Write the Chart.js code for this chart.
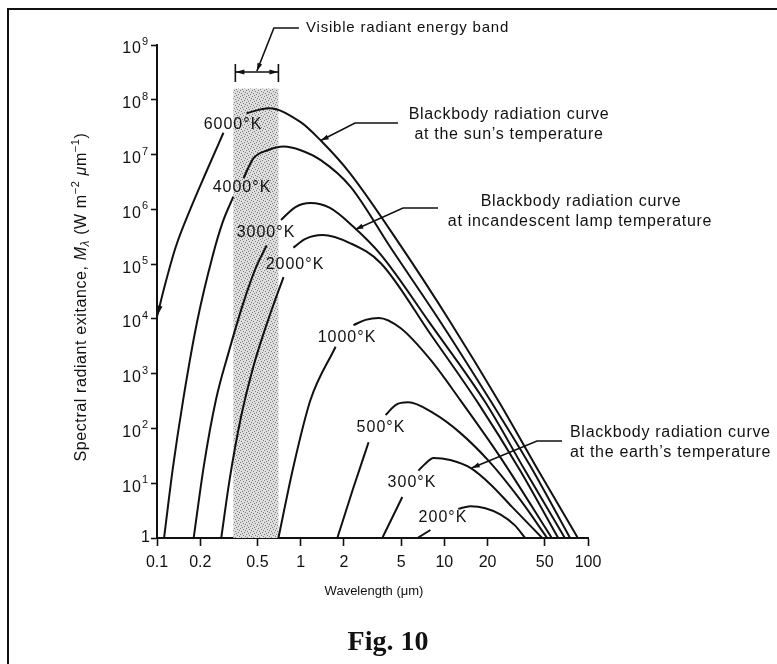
<!DOCTYPE html>
<html>
<head>
<meta charset="utf-8">
<script src="https://cdn.jsdelivr.net/npm/chart.js@4.4.0/dist/chart.umd.min.js"></script>
<style>
  html, body { margin: 0; padding: 0; background: #fff; }
  #wrap { position: relative; width: 777px; height: 664px; overflow: hidden; }
  #frame { position: absolute; left: 7px; top: 8px; width: 780px; height: 700px; border-left: 2px solid #111; border-top: 2px solid #111; pointer-events: none; }
  canvas { position: absolute; left: 0; top: 0; }
</style>
</head>
<body>
<div id="wrap">
  <canvas id="chart" width="777" height="664"></canvas>
  <div id="frame"></div>
</div>
<script>
(function () {
  "use strict";

  const xTicks = [0.1, 0.2, 0.5, 1, 2, 5, 10, 20, 50, 100];
  const xTickLabels = ["0.1", "0.2", "0.5", "1", "2", "5", "10", "20", "50", "100"];
  const yTicks = [1, 1e1, 1e2, 1e3, 1e4, 1e5, 1e6, 1e7, 1e8, 1e9];
  const yTickPowers = ["", "1", "2", "3", "4", "5", "6", "7", "8", "9"];

  // [wavelength um, exitance W m-2 um-1]; null = break where the label sits
  const curve6000 = [[0.1, 1.1e4], [0.115, 4.7e4], [0.135, 2.05e5], [0.172, 1.06e6], [0.22, 4.8e6], [0.29, 2.5e7], null,
    [0.42, 5.7e7], [0.6, 7e7], [1.0, 3.9e7], [1.38, 1.8e7], [2.2, 4.6e6], [4.95, 2.2e5], [11, 8.8e3], [24.5, 280], [46.4, 15], [85, 1]];
  const curve4000 = [[0.112, 1], [0.129, 19], [0.152, 330], [0.19, 8.8e3], [0.245, 1.47e5], [0.287, 5.9e5], [0.34, 1.7e6], null,
    [0.4, 3.7e6], [0.47, 8.6e6], [0.59, 1.2e7], [0.76, 1.4e7], [1.0, 1.2e7], [1.38, 7.9e6], [2.22, 2.6e6], [4.2, 2.05e5], [9.4, 8.8e3], [20.8, 330], [39.5, 21], [75, 1]];
  const curve3000 = [[0.18, 1], [0.212, 21], [0.257, 330], [0.316, 2500], [0.395, 1.8e4], [0.487, 8.5e4], [0.58, 2.2e5], null,
    [0.73, 6.4e5], [0.92, 1.1e6], [1.17, 1.3e6], [1.6, 1.06e6], [2.33, 4.8e5], [3.6, 1.5e5], [8, 8.1e3], [19.3, 300], [36.5, 17], [69, 1]];
  const curve2000 = [[0.28, 1], [0.32, 11.5], [0.383, 155], [0.472, 1440], [0.6, 1.04e4], [0.76, 5.8e4], null,
    [0.89, 2e5], [1.08, 2.9e5], [1.42, 3.4e5], [2.22, 2.4e5], [3.6, 1.05e5], [8, 5.3e3], [17.2, 290], [33.7, 17], [62, 1]];
  const curve1000 = [[0.7, 1], [0.89, 20], [1.17, 330], [1.75, 3100], null,
    [2.33, 7.7e3], [2.83, 9.6e3], [3.5, 1.04e4], [4.95, 6.8e3], [8, 1800], [12.9, 330], [24.5, 30], [56, 1]];
  const curve500 = [[1.8, 1], [2.3, 7.5], [2.97, 56], null,
    [3.9, 176], [4.6, 270], [5.6, 300], [8.4, 190], [12.9, 83], [20.8, 24], [33.7, 5], [52, 1]];
  const curve300 = [[3.7, 1], [5.1, 5.6], null,
    [6.6, 17], [7.4, 23], [8.4, 29], [11, 26.5], [15.2, 19], [20.8, 9.7], [29.6, 3.7], [48, 1]];
  const curve200 = [[6.5, 1], [8.0, 1.4], null,
    [12.5, 3.4], [15.2, 3.8], [19.3, 3.5], [24.5, 2.7], [31, 1.7], [36.5, 1]];

  const curves = [curve6000, curve4000, curve3000, curve2000, curve1000, curve500, curve300, curve200];
  const curveNames = ["6000°K", "4000°K", "3000°K", "2000°K", "1000°K", "500°K", "300°K", "200°K"];

  const visibleBand = [0.34, 0.70];
  const visibleBandTop = 1.6e8;

  // arrow tips of the call-outs, on the curves
  const sunTip = [1.38, 1.8e7];
  const lampTip = [2.4, 4.3e5];
  const earthTip = [15.5, 19];

  const FONT = '"Liberation Sans", Arial, Helvetica, sans-serif';
  const INK = "#111";

  function toPoints(curve) {
    const out = [];
    curve.forEach((p, i) => {
      if (p === null) {
        const a = curve[i - 1];
        const b = curve[i + 1];
        out.push({ x: Math.sqrt(a[0] * b[0]), y: null });
      } else {
        out.push({ x: p[0], y: p[1] });
      }
    });
    return out;
  }

  function makeStipple(ctx) {
    const c = document.createElement("canvas");
    c.width = 6;
    c.height = 6;
    const g = c.getContext("2d");
    g.fillStyle = "#dedede";
    g.fillRect(0, 0, 6, 6);
    g.fillStyle = "#7a7a7a";
    [[0, 0], [3, 1], [1, 3], [4, 4], [2, 5], [5, 2]].forEach(([a, b]) => g.fillRect(a, b, 1, 1));
    return ctx.createPattern(c, "repeat");
  }

  function label(ctx, str, x, y, font, align, spacing) {
    ctx.save();
    ctx.font = font;
    ctx.letterSpacing = spacing || "0px";
    ctx.textAlign = align || "center";
    ctx.textBaseline = "middle";
    ctx.fillStyle = INK;
    ctx.fillText(str, x, y);
    ctx.restore();
  }

  function arrowHead(ctx, fromX, fromY, tipX, tipY, len, half) {
    const a = Math.atan2(tipY - fromY, tipX - fromX);
    const bx = tipX - len * Math.cos(a);
    const by = tipY - len * Math.sin(a);
    ctx.beginPath();
    ctx.moveTo(tipX, tipY);
    ctx.lineTo(bx + half * Math.sin(a), by - half * Math.cos(a));
    ctx.lineTo(bx - half * Math.sin(a), by + half * Math.cos(a));
    ctx.closePath();
    ctx.fill();
  }

  function leader(ctx, pts) {
    ctx.beginPath();
    ctx.moveTo(pts[0][0], pts[0][1]);
    pts.slice(1).forEach((p) => ctx.lineTo(p[0], p[1]));
    ctx.stroke();
    arrowHead(ctx, pts[1][0], pts[1][1], pts[0][0], pts[0][1], 8, 2.5);
  }

  function richText(ctx, pieces, cx, cy) {
    let total = 0;
    pieces.forEach((p) => {
      ctx.font = p.font;
      p.w = ctx.measureText(p.t).width;
      total += p.w;
    });
    let xx = cx - total / 2;
    ctx.textAlign = "left";
    ctx.textBaseline = "middle";
    pieces.forEach((p) => {
      ctx.font = p.font;
      ctx.fillText(p.t, xx, cy + (p.dy || 0));
      xx += p.w;
    });
  }

  const bandPlugin = {
    id: "visibleBand",
    beforeDatasetsDraw(chart) {
      const { ctx, scales: { x, y } } = chart;
      const left = x.getPixelForValue(visibleBand[0]);
      const right = x.getPixelForValue(visibleBand[1]);
      const top = y.getPixelForValue(visibleBandTop);
      const bottom = y.getPixelForValue(1);
      ctx.save();
      ctx.fillStyle = makeStipple(ctx);
      ctx.fillRect(left, top, right - left, bottom - top);
      ctx.restore();
    },
  };

  const notesPlugin = {
    id: "notes",
    afterDraw(chart) {
      const { ctx, scales: { x, y } } = chart;
      ctx.save();
      ctx.fillStyle = INK;
      ctx.strokeStyle = INK;
      ctx.lineWidth = 1.6;

      // y tick labels with powers of ten
      yTicks.forEach((v, i) => {
        const py = y.getPixelForValue(v);
        if (!yTickPowers[i]) {
          label(ctx, "1", 150, py, "16px " + FONT, "right");
        } else {
          label(ctx, "10", 142, py + 4, "16px " + FONT, "right", "1px");
          label(ctx, yTickPowers[i], 142, py - 3, "11px " + FONT, "left");
        }
      });

      // axis titles
      ctx.save();
      ctx.translate(82, 297);
      ctx.rotate(-Math.PI / 2);
      ctx.fillStyle = INK;
      ctx.letterSpacing = "0.6px";
      const f = "16px " + FONT;
      const fi = "italic 16px " + FONT;
      const fs = "11px " + FONT;
      richText(ctx, [
        { t: "Spectral radiant exitance, ", font: f },
        { t: "M", font: fi },
        { t: "λ", font: "italic 12px " + FONT, dy: 4 },
        { t: " (W m", font: f },
        { t: "−2", font: fs, dy: -6 },
        { t: " ", font: f },
        { t: "μ", font: fi },
        { t: "m", font: f },
        { t: "−1", font: fs, dy: -6 },
        { t: ")", font: f },
      ], 0, 0);
      ctx.restore();

      label(ctx, "Wavelength (μm)", 374, 591, "13px " + FONT, "center");

      // temperature labels
      const tempPos = [[233, 125], [242, 188], [266, 233], [295, 265], [347, 338], [381, 428], [412, 483], [443, 518]];
      curveNames.forEach((n, i) => {
        label(ctx, n, tempPos[i][0], tempPos[i][1], "16px " + FONT, "center", "1px");
      });

      // 6000 K runs off the left edge
      const e0 = [x.getPixelForValue(curve6000[0][0]), y.getPixelForValue(curve6000[0][1])];
      const e1 = [x.getPixelForValue(curve6000[1][0]), y.getPixelForValue(curve6000[1][1])];
      arrowHead(ctx, e1[0], e1[1], e0[0] + 1, e0[1] - 2, 9, 2.5);

      // visible band bracket
      const bl = x.getPixelForValue(visibleBand[0]) + 2;
      const br = x.getPixelForValue(visibleBand[1]);
      const by = 72;
      ctx.beginPath();
      ctx.moveTo(bl, by - 8); ctx.lineTo(bl, by + 10);
      ctx.moveTo(br, by - 8); ctx.lineTo(br, by + 10);
      ctx.moveTo(bl, by); ctx.lineTo(br, by);
      ctx.stroke();
      arrowHead(ctx, bl + 20, by, bl, by, 9, 2.5);
      arrowHead(ctx, br - 20, by, br, by, 9, 2.5);
      const bm = (bl + br) / 2;
      leader(ctx, [[bm, by - 1], [bm + 17, 28], [bm + 42, 28]]);
      label(ctx, "Visible radiant energy band", 306, 28, "15px " + FONT, "left", "0.8px");

      // call-outs
      const sx = x.getPixelForValue(sunTip[0]);
      const sy = y.getPixelForValue(sunTip[1]);
      leader(ctx, [[sx, sy], [355, 123], [398, 123]]);
      label(ctx, "Blackbody radiation curve", 509, 115, "16px " + FONT, "center", "0.7px");
      label(ctx, "at the sun\u2019s temperature", 509, 135, "16px " + FONT, "center", "0.7px");

      const lx = x.getPixelForValue(lampTip[0]);
      const ly = y.getPixelForValue(lampTip[1]);
      leader(ctx, [[lx, ly], [403, 208], [438, 208]]);
      label(ctx, "Blackbody radiation curve", 581, 202, "16px " + FONT, "center", "0.7px");
      label(ctx, "at incandescent lamp temperature", 580, 222, "16px " + FONT, "center", "0.7px");

      const ex = x.getPixelForValue(earthTip[0]);
      const ey = y.getPixelForValue(earthTip[1]);
      leader(ctx, [[ex, ey], [537, 441], [562, 441]]);
      label(ctx, "Blackbody radiation curve", 570, 433, "16px " + FONT, "left", "0.7px");
      label(ctx, "at the earth\u2019s temperature", 570, 453, "16px " + FONT, "left", "0.7px");

      label(ctx, "Fig. 10", 388, 643, 'bold 28px "Liberation Serif", "Times New Roman", serif', "center");
      ctx.restore();
    },
  };

  const datasets = curves.map((c, i) => ({
    label: curveNames[i],
    data: toPoints(c),
    borderColor: INK,
    borderWidth: 2,
    pointRadius: 0,
    fill: false,
    spanGaps: false,
    cubicInterpolationMode: "monotone",
  }));

  new Chart(document.getElementById("chart"), {
    type: "line",
    data: { datasets },
    plugins: [bandPlugin, notesPlugin],
    options: {
      responsive: false,
      animation: false,
      layout: { padding: { left: 0, top: 45, right: 189, bottom: 0 } },
      plugins: { legend: { display: false }, tooltip: { enabled: false } },
      scales: {
        x: {
          type: "logarithmic",
          min: 0.1,
          max: 100,
          afterBuildTicks: (axis) => { axis.ticks = xTicks.map((v) => ({ value: v })); },
          afterFit: (axis) => { axis.height = 126; },
          grid: { display: true, drawOnChartArea: false, drawTicks: true, tickLength: 8, tickColor: INK, tickWidth: 1.6 },
          border: { display: true, color: INK, width: 2 },
          ticks: {
            autoSkip: false,
            maxRotation: 0,
            padding: 7,
            color: INK,
            font: { family: FONT, size: 16 },
            callback: (v, i) => xTickLabels[i],
          },
        },
        y: {
          type: "logarithmic",
          min: 1,
          max: 1e9,
          afterBuildTicks: (axis) => { axis.ticks = yTicks.map((v) => ({ value: v })); },
          afterFit: (axis) => { axis.width = 157; },
          grid: { display: true, drawOnChartArea: false, drawTicks: true, tickLength: 6, tickColor: INK, tickWidth: 1.6 },
          border: { display: true, color: INK, width: 2 },
          ticks: { callback: () => "" },
        },
      },
    },
  });
})();
</script>
</body>
</html>
